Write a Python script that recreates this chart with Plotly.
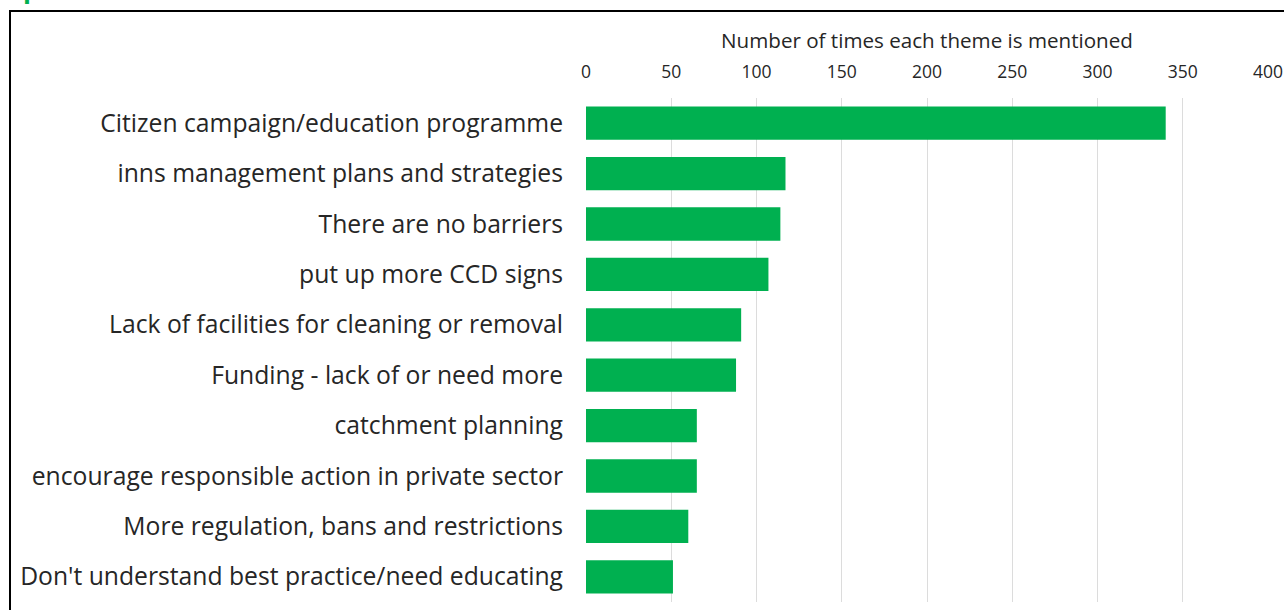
import plotly.graph_objects as go

themes = [
    "Citizen campaign/education programme",
    "inns management plans and strategies",
    "There are no barriers",
    "put up more CCD signs",
    "Lack of facilities for cleaning or removal",
    "Funding - lack of or need more",
    "catchment planning",
    "encourage responsible action in private sector",
    "More regulation, bans and restrictions",
    "Don't understand best practice/need educating",
]
mentions = [340, 117, 114, 107, 91, 88, 65, 65, 60, 51]
tick_values = [0, 50, 100, 150, 200, 250, 300, 350, 400]

GREEN = "#00B050"
TEXT = "#262626"
FONT = "'Open Sans', Lato, sans-serif"

fig = go.Figure(
    go.Bar(
        x=mentions,
        y=themes,
        orientation="h",
        marker=dict(color=GREEN, line=dict(width=0)),
        hoverinfo="x+y",
    )
)

fig.update_layout(
    width=1284,
    height=610,
    margin=dict(l=586, r=16, t=98, b=8),
    paper_bgcolor="white",
    plot_bgcolor="white",
    bargap=0.34,
    showlegend=False,
    font=dict(family=FONT, color=TEXT),
    xaxis=dict(
        side="top",
        range=[0, 400],
        tickvals=tick_values,
        ticktext=[str(v) for v in tick_values],
        tickfont=dict(size=17.5, color=TEXT),
        showgrid=True,
        gridcolor="#DCDCDC",
        gridwidth=1,
        zeroline=False,
        showline=False,
        ticks="",
        automargin=False,
        ticklabelstandoff=16,
        title=dict(
            text="Number of times each theme is mentioned",
            font=dict(size=20.6, color=TEXT),
            standoff=4,
        ),
    ),
    yaxis=dict(
        categoryorder="array",
        categoryarray=themes,
        autorange="reversed",
        tickfont=dict(size=24.7, color=TEXT),
        showgrid=False,
        zeroline=False,
        showline=False,
        ticks="",
        automargin=False,
        ticklabelstandoff=22,
    ),
    shapes=[
        dict(
            type="rect",
            xref="paper",
            yref="paper",
            x0=(10 - 586) / 682,
            x1=(1292 - 586) / 682,
            y0=(602 - 616) / 504,
            y1=1 + (98 - 11) / 504,
            line=dict(color="black", width=2),
            fillcolor="rgba(0,0,0,0)",
            layer="below",
        )
    ],
    annotations=[
        dict(
            text="<b>species</b>",
            xref="paper",
            yref="paper",
            x=(8 - 586) / 682,
            y=1 + (98 - 8) / 504,
            xanchor="left",
            yanchor="bottom",
            showarrow=False,
            font=dict(size=26, color=GREEN, family=FONT),
        )
    ],
)

fig.write_html("out.html")
